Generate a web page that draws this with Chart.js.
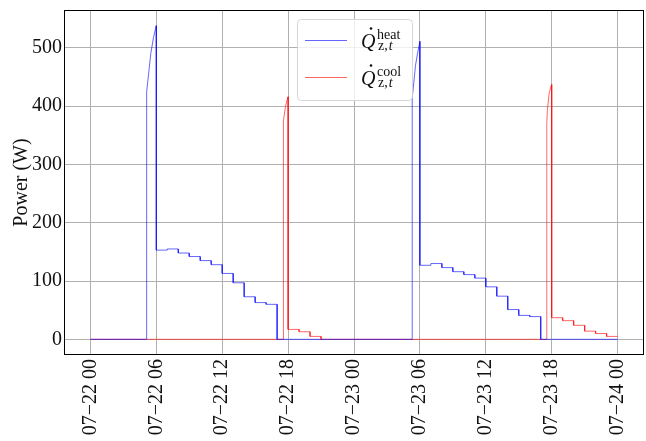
<!DOCTYPE html>
<html>
<head>
    <title>Zone power</title>
    <style>
        body {
            margin: 0;
            background-color: white;
        }
    </style>
    <script src="https://cdn.jsdelivr.net/npm/chart.js"></script>
</head>
<body>
    <canvas id="power-chart" width="646" height="441"></canvas>

    <script>
        // hours since 07-22 00:00, one value per hour (null = hour holding a start-up ramp)
        const heatLevels = [
            0, 0, 0, 0, 0, null, 153, 155, 148, 142, 135, 128,
            113, 97, 73, 63, 60, 0, 0, 0, 0, 0, 0, 0,
            0, 0, 0, 0, 0, null, 127, 130, 123, 116, 111, 105,
            90, 74, 51, 41, 39, 0, 0, 0, 0, 0, 0, 0
        ];
        const coolLevels = [
            0, 0, 0, 0, 0, 0, 0, 0, 0, 0, 0, 0,
            0, 0, 0, 0, 0, null, 17, 13, 5, 0, 0, 0,
            0, 0, 0, 0, 0, 0, 0, 0, 0, 0, 0, 0,
            0, 0, 0, 0, 0, null, 37, 32, 24, 14, 10, 5
        ];

        // start-up ramps (finer time steps)
        const heatRampTimes = [[5.1, 5.15, 5.3, 5.5, 5.75, 6], [29.3, 29.4, 29.6, 29.8, 30]];
        const heatRampValues = [[411, 425, 455, 490, 518, 538], [414, 432, 470, 492, 511]];
        const coolRampTimes = [[17.55, 17.6, 17.75, 17.9, 18], [41.55, 41.6, 41.75, 41.9, 42]];
        const coolRampValues = [[355, 375, 398, 410, 416], [368, 392, 420, 432, 437]];

        const xTicks = [0, 6, 12, 18, 24, 30, 36, 42, 48];
        const tickLabels = ['07\u221222 00', '07\u221222 06', '07\u221222 12', '07\u221222 18',
            '07\u221223 00', '07\u221223 06', '07\u221223 12', '07\u221223 18', '07\u221224 00'];
        const yTicks = [0, 100, 200, 300, 400, 500];

        // turn hourly levels + ramps into a list of points
        function buildSeries(levels, rampTimes, rampValues) {
            const pts = [];
            for (let h = 0; h < levels.length; h++) {
                const v = levels[h];
                if (v === null) {
                    const k = rampTimes.findIndex(t => Math.floor(t[0]) === h);
                    pts.push({x: h, y: 0});
                    pts.push({x: rampTimes[k][0], y: 0});
                    rampTimes[k].forEach((t, i) => pts.push({x: t, y: rampValues[k][i]}));
                } else {
                    pts.push({x: h, y: v});
                    pts.push({x: h + 1, y: v});
                }
            }
            return pts;
        }

        const serif = "'Liberation Serif', 'DejaVu Serif', serif";

        // frame around the plot area
        const framePlugin = {
            id: 'frame',
            afterDraw(chart) {
                const a = chart.chartArea;
                const ctx = chart.ctx;
                ctx.save();
                ctx.strokeStyle = '#000';
                ctx.lineWidth = 1;
                ctx.strokeRect(Math.round(a.left) + 0.5, Math.round(a.top) + 0.5,
                    Math.round(a.right - a.left) - 1, Math.round(a.bottom - a.top) - 1);
                ctx.restore();
            }
        };

        // legend with the Q-dot symbols
        const legendEntries = [
            {color: 'rgba(0, 0, 255, 0.6)', sup: 'heat'},
            {color: 'rgba(255, 0, 0, 0.6)', sup: 'cool'}
        ];
        const mathLegend = {
            id: 'mathLegend',
            afterDatasetsDraw(chart) {
                const ctx = chart.ctx;
                const bx = 297.5, by = 19.5, bw = 115, bh = 81;
                ctx.save();
                ctx.beginPath();
                ctx.roundRect(bx, by, bw, bh, 4);
                ctx.fillStyle = 'rgba(255, 255, 255, 0.8)';
                ctx.fill();
                ctx.strokeStyle = 'rgba(204, 204, 204, 0.8)';
                ctx.lineWidth = 1;
                ctx.stroke();

                legendEntries.forEach((e, i) => {
                    const y = 40 + i * 37;
                    ctx.beginPath();
                    ctx.moveTo(305, y + 0.5);
                    ctx.lineTo(347, y + 0.5);
                    ctx.strokeStyle = e.color;
                    ctx.lineWidth = 1;
                    ctx.stroke();

                    ctx.fillStyle = '#111';
                    ctx.textBaseline = 'alphabetic';
                    ctx.textAlign = 'left';
                    const base = y + 8;
                    ctx.font = 'italic 20px ' + serif;
                    ctx.fillText('Q', 361, base);
                    ctx.beginPath();
                    ctx.arc(371, base - 19.5, 1.3, 0, Math.PI * 2);
                    ctx.fill();
                    ctx.font = '14px ' + serif;
                    ctx.fillText(e.sup, 377, base - 9);
                    ctx.fillText('z,', 378, base + 2);
                    const w = ctx.measureText('z,').width;
                    ctx.font = 'italic 14px ' + serif;
                    ctx.fillText('t', 378 + w + 1, base + 2);
                });
                ctx.restore();
            }
        };

        const ctx = document.getElementById('power-chart').getContext('2d');
        const powerChart = new Chart(ctx, {
            type: 'line',
            data: {
                datasets: [
                    {
                        label: 'heat',
                        data: buildSeries(heatLevels, heatRampTimes, heatRampValues),
                        borderColor: 'rgba(0, 0, 255, 0.6)',
                        borderWidth: 1,
                        pointRadius: 0,
                        tension: 0,
                        fill: false
                    },
                    {
                        label: 'cool',
                        data: buildSeries(coolLevels, coolRampTimes, coolRampValues),
                        borderColor: 'rgba(255, 0, 0, 0.6)',
                        borderWidth: 1,
                        pointRadius: 0,
                        tension: 0,
                        fill: false
                    }
                ]
            },
            options: {
                responsive: false,
                animation: false,
                devicePixelRatio: 1,
                layout: {padding: {top: 10, right: 2, left: 0, bottom: 0}},
                plugins: {
                    legend: {display: false},
                    tooltip: {enabled: false}
                },
                scales: {
                    x: {
                        type: 'linear',
                        min: -2.4,
                        max: 50.4,
                        border: {display: false},
                        grid: {color: '#b0b0b0', lineWidth: 1, drawTicks: false},
                        afterFit: s => { s.height = 86; s.paddingLeft = 0; s.paddingRight = 0; },
                        afterBuildTicks: s => { s.ticks = xTicks.map(v => ({value: v})); },
                        ticks: {
                            autoSkip: false,
                            minRotation: 90,
                            maxRotation: 90,
                            padding: 4,
                            color: '#111',
                            font: {family: serif, size: 20},
                            callback: v => tickLabels[xTicks.indexOf(v)]
                        }
                    },
                    y: {
                        min: -26.9,
                        max: 564.9,
                        border: {display: false},
                        grid: {color: '#b0b0b0', lineWidth: 1, drawTicks: false},
                        afterFit: s => { s.width = 64; s.paddingTop = 0; s.paddingBottom = 0; },
                        afterBuildTicks: s => { s.ticks = yTicks.map(v => ({value: v})); },
                        title: {
                            display: true,
                            text: 'Power (W)',
                            color: '#111',
                            font: {family: serif, size: 20},
                            padding: {top: 10, bottom: 0}
                        },
                        ticks: {
                            padding: 2,
                            color: '#111',
                            font: {family: serif, size: 20}
                        }
                    }
                }
            },
            plugins: [framePlugin, mathLegend]
        });
    </script>
</body>
</html>
